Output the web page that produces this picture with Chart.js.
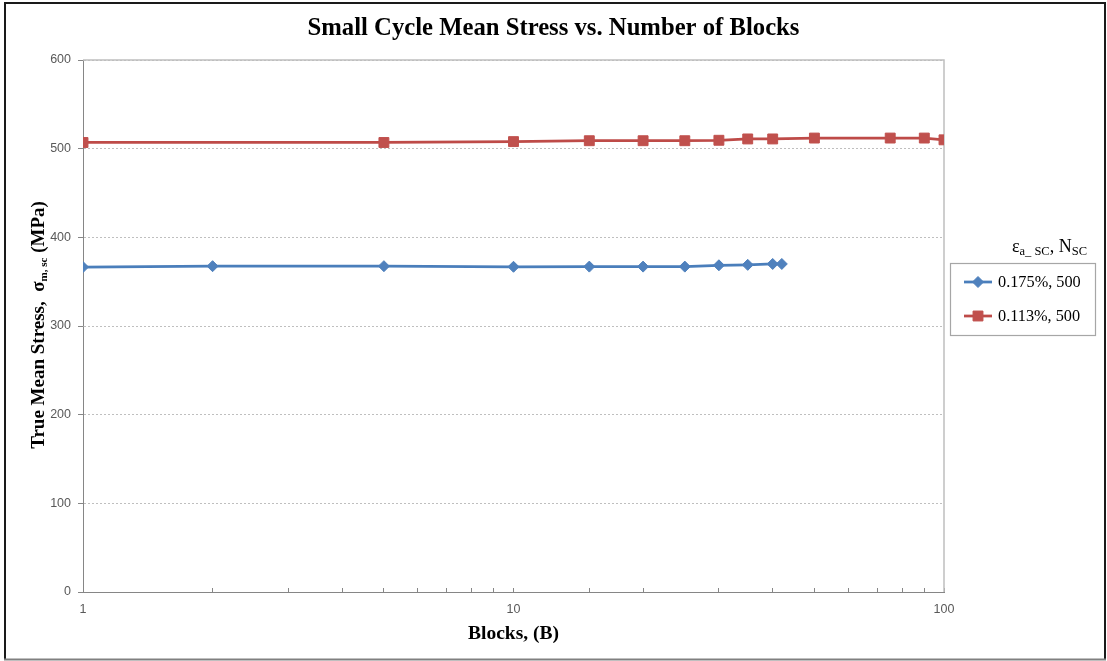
<!DOCTYPE html>
<html>
<head>
<meta charset="utf-8">
<title>Small Cycle Mean Stress vs. Number of Blocks</title>
<script src="https://cdn.jsdelivr.net/npm/chart.js@4.4.0/dist/chart.umd.min.js"></script>
<style>
  html, body { margin: 0; padding: 0; background: #fff; }
  canvas { display: block; }
</style>
</head>
<body>
<canvas id="stressChart" width="1107" height="661"></canvas>
<script>
// values
const blocks175 = [1, 2, 5, 10, 15, 20, 25, 30, 35, 40, 42];
const stress175 = [366.5, 367.5, 367.5, 366.8, 367, 367, 367, 368.5, 369, 370, 370];
const blocks113 = [1, 5, 10, 15, 20, 25, 30, 35, 40, 50, 75, 90, 100];
const stress113 = [507, 507, 508, 509, 509, 509, 509.5, 511, 511, 512, 512, 512, 510];
const seriesLabels = ['0.175%, 500', '0.113%, 500'];
const xTickLabels = [1, 10, 100];
const yTitleParts = ['True Mean Stress,  σ', 'm, sc', ' (MPa)'];
const legendTitleParts = ['ε', 'a_ SC', ', N', 'SC'];

function toPoints(xs, ys) {
    return xs.map((x, i) => ({ x: x, y: ys[i] }));
}

// draws text runs, every second run as a subscript
function drawRuns(ctx, parts, x, y, bigFont, smallFont, drop) {
    let cx = x;
    parts.forEach((p, i) => {
        ctx.font = i % 2 ? smallFont : bigFont;
        ctx.fillText(p, cx, i % 2 ? y + drop : y);
        cx += ctx.measureText(p).width;
    });
}
function runsWidth(ctx, parts, bigFont, smallFont) {
    let w = 0;
    parts.forEach((p, i) => {
        ctx.font = i % 2 ? smallFont : bigFont;
        w += ctx.measureText(p).width;
    });
    return w;
}

const decor = {
    id: 'decor',
    beforeDraw(chart) {
        const ctx = chart.ctx;
        ctx.save();
        ctx.fillStyle = '#fff';
        ctx.fillRect(0, 0, chart.width, chart.height);
        ctx.restore();
    },
    beforeDatasetsDraw(chart) {
        const { ctx, chartArea: a } = chart;
        ctx.save();
        ctx.strokeStyle = '#bfbfbf';
        ctx.lineWidth = 1.5;
        ctx.beginPath();
        ctx.moveTo(a.left, a.top);
        ctx.lineTo(a.right, a.top);
        ctx.lineTo(a.right, a.bottom);
        ctx.stroke();
        ctx.restore();
    },
    afterDraw(chart) {
        const ctx = chart.ctx;
        ctx.save();
        ctx.fillStyle = '#000';
        ctx.textBaseline = 'alphabetic';
        ctx.textAlign = 'left';

        // y axis title with subscript
        const yBig = 'bold 19px "Liberation Serif"';
        const ySmall = 'bold 11px "Liberation Serif"';
        ctx.save();
        ctx.translate(44, 325);
        ctx.rotate(-Math.PI / 2);
        const yw = runsWidth(ctx, yTitleParts, yBig, ySmall);
        drawRuns(ctx, yTitleParts, -yw / 2, 0, yBig, ySmall, 3);
        ctx.restore();

        // legend
        const lBig = '18px "Liberation Serif"';
        const lSmall = '12.5px "Liberation Serif"';
        const tw = runsWidth(ctx, legendTitleParts, lBig, lSmall);
        drawRuns(ctx, legendTitleParts, 1087 - tw, 252, lBig, lSmall, 3);

        ctx.strokeStyle = '#a6a6a6';
        ctx.lineWidth = 1.2;
        ctx.strokeRect(950.5, 263.5, 145, 72);

        const rowY = [282, 316];
        chart.data.datasets.forEach((ds, i) => {
            const y = rowY[i];
            ctx.strokeStyle = ds.borderColor;
            ctx.lineWidth = ds.borderWidth;
            ctx.beginPath();
            ctx.moveTo(964, y);
            ctx.lineTo(992, y);
            ctx.stroke();
            ctx.fillStyle = ds.pointBackgroundColor;
            ctx.strokeStyle = ds.pointBorderColor;
            ctx.lineWidth = 1;
            Chart.helpers.drawPoint(ctx, {
                pointStyle: ds.pointStyle, radius: ds.pointRadius, rotation: 0, borderWidth: 1
            }, 978, y);
            ctx.fillStyle = '#000';
            ctx.font = '16.3px "Liberation Serif"';
            ctx.textBaseline = 'middle';
            ctx.fillText(ds.label, 998, y + 1);
            ctx.textBaseline = 'alphabetic';
        });

        // outer frame of the picture
        ctx.lineWidth = 2;
        ctx.strokeStyle = '#1a1a1a';
        ctx.beginPath();
        ctx.moveTo(5, 659);
        ctx.lineTo(5, 3);
        ctx.lineTo(1105, 3);
        ctx.lineTo(1105, 659);
        ctx.stroke();
        ctx.strokeStyle = '#808080';
        ctx.beginPath();
        ctx.moveTo(4, 659.5);
        ctx.lineTo(1106, 659.5);
        ctx.stroke();
        ctx.restore();
    }
};

const ctx = document.getElementById('stressChart').getContext('2d');
const chart = new Chart(ctx, {
    type: 'line',
    data: {
        datasets: [
            {
                label: seriesLabels[0],
                data: toPoints(blocks175, stress175),
                borderColor: '#4a7ebb',
                borderWidth: 2.75,
                pointStyle: 'rectRot',
                pointRadius: 5.5,
                pointBackgroundColor: '#4f81bd',
                pointBorderColor: '#4f81bd',
                pointBorderWidth: 1,
                tension: 0,
                fill: false,
            },
            {
                label: seriesLabels[1],
                data: toPoints(blocks113, stress113),
                borderColor: '#be4b48',
                borderWidth: 2.75,
                pointStyle: 'rect',
                pointRadius: 7,
                pointBackgroundColor: '#c0504d',
                pointBorderColor: '#c0504d',
                pointBorderWidth: 1,
                tension: 0,
                fill: false,
            }
        ]
    },
    options: {
        responsive: false,
        devicePixelRatio: 1,
        animation: false,
        events: [],
        layout: { padding: 0 },
        plugins: {
            legend: { display: false },
            tooltip: { enabled: false },
            title: {
                display: true,
                text: 'Small Cycle Mean Stress vs. Number of Blocks',
                color: '#000',
                font: { family: 'Liberation Serif', size: 24.7, weight: 'bold' },
                padding: { top: 13.7, bottom: 16.7 }
            }
        },
        scales: {
            x: {
                type: 'logarithmic',
                position: 'bottom',
                min: 1,
                max: 100,
                afterFit: function (s) { s.height = 69; },
                grid: {
                    display: true,
                    drawOnChartArea: false,
                    drawTicks: true,
                    tickLength: -4,
                    tickColor: '#868686',
                },
                border: { color: '#868686', width: 1 },
                ticks: {
                    autoSkip: false,
                    maxRotation: 0,
                    padding: 14,
                    color: '#595959',
                    font: { family: 'Liberation Sans', size: 12.5 },
                    callback: function (v) {
                        return xTickLabels.includes(v) ? String(v) : '';
                    }
                },
                title: {
                    display: true,
                    text: 'Blocks, (B)',
                    color: '#000',
                    font: { family: 'Liberation Serif', size: 19.5, weight: 'bold' },
                    padding: { top: 0, bottom: 15.3 }
                }
            },
            y: {
                type: 'linear',
                position: 'left',
                min: 0,
                max: 600,
                afterFit: function (s) { s.width = 83; },
                grid: {
                    color: function (c) { return c.tick && c.tick.value === 0 ? 'rgba(0,0,0,0)' : '#bfbfbf'; },
                    tickColor: '#868686',
                    tickLength: 5,
                },
                border: { color: '#868686', width: 1, dash: [2, 2] },
                ticks: {
                    stepSize: 100,
                    padding: 7,
                    color: '#595959',
                    font: { family: 'Liberation Sans', size: 12.5 }
                }
            },
            yr: {
                axis: 'y',
                type: 'linear',
                position: 'right',
                display: true,
                min: 0,
                max: 600,
                afterFit: function (s) { s.width = 163; },
                grid: { display: false },
                border: { display: false },
                ticks: { display: false }
            }
        }
    },
    plugins: [decor]
});
</script>
</body>
</html>
